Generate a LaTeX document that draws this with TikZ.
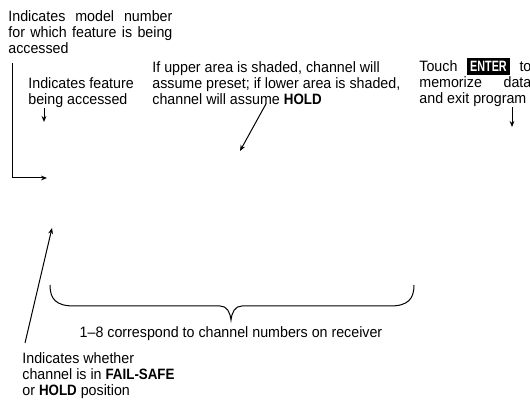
\documentclass[tikz,border=0pt]{standalone}
\usepackage{fontspec}
\setmainfont{Liberation Sans}[FakeStretch=0.95, BoldFeatures={FakeStretch=0.89}]
\newfontfamily\keyfont{Liberation Sans}[FakeStretch=0.72]
\usepackage{tikz}
\usetikzlibrary{arrows.meta}
\newcommand{\enterkey}{{\setlength{\fboxsep}{1.5pt}\colorbox{black}{\textcolor{white}{\keyfont\bfseries ENTER}}}}

\begin{document}
\begin{tikzpicture}[
        x=0.5pt, y=-0.5pt,
        note/.style = {inner sep=0pt, anchor=north west, align=left, font=\fontsize{7.5}{8}\selectfont},
        pointer/.style = {draw=black, line width=0.5pt, -{Stealth[length=3pt, width=2.4pt]}},
        bracket/.style = {draw=black, line width=0.5pt}
    ]
    \useasboundingbox (0,0) rectangle (530,400);

    % Top: model number note with its L-shaped pointer
    \node (modelnote) [note, text width=82pt, align=justify] at (8,10) {Indicates model number\linebreak for which feature is being\linebreak accessed};
    \coordinate (modeltip) at (47,178);
    \draw [pointer] ([xshift=2pt, yshift=-4.5pt]modelnote.south west) |- (modeltip);

    % Row of notes above the screen
    \node (featnote) [note] at (28,77) {Indicates feature\\being accessed};
    \node (shadenote) [note] at (152,61) {If upper area is shaded, channel will\\assume preset; if lower area is shaded,\\channel will assume \textbf{HOLD}};
    \node (enternote) [note, text width=56pt, align=justify] at (419,58) {Touch \enterkey{} to\linebreak memorize data\linebreak and exit program};

    \coordinate (featpt) at (44,122);
    \coordinate (shadept) at (240,151);
    \coordinate (enterpt) at (512,127);
    \draw [pointer] ([xshift=8pt]featnote.south west) -- (featpt);
    \draw [pointer] ([xshift=57pt, yshift=0.5pt]shadenote.south west) -- (shadept);
    \draw [pointer] ([xshift=46.5pt]enternote.south west) -- (enterpt);

    % Brace under channels 1-8
    \draw [bracket] (50,285) .. controls (50,299) and (56,306) .. (74,306) -- (220,306)
        .. controls (227,306) and (230,312) .. (231,320)
        .. controls (232,312) and (235,306) .. (242,306) -- (390,306)
        .. controls (408,306) and (414,299) .. (414,285);
    \node (chnote) [note, anchor=base] at (231,338) {1--8 correspond to channel numbers on receiver};

    % Bottom: fail-safe note
    \node (failnote) [note] at (22,352) {Indicates whether\\channel is in \textbf{FAIL-SAFE}\\or \textbf{HOLD} position};
    \coordinate (failpt) at (52,228);
    \draw [pointer] ([xshift=1.5pt, yshift=4.5pt]failnote.north west) -- (failpt);
\end{tikzpicture}
\end{document}
